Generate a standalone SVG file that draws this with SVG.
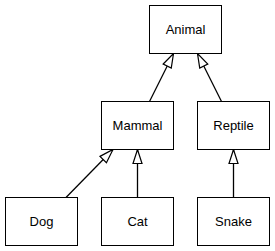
<svg xmlns="http://www.w3.org/2000/svg" width="275" height="251" viewBox="0 0 275 251">
<style>
.box{fill:#fff;stroke:#000;stroke-width:1}
.lbl{font-family:"Liberation Sans",Arial,sans-serif;font-size:13px;fill:#000;text-anchor:middle;dominant-baseline:central}
.edge{stroke:#000;stroke-width:1.3;fill:none;marker-end:url(#tri)}
</style>
<defs>
<marker id="tri" markerUnits="userSpaceOnUse" markerWidth="16" markerHeight="12" viewBox="0 0 16 12" refX="15" refY="6" orient="auto">
<path d="M1,1.5 L15,6 L1,10.5 Z" fill="#fff" stroke="#000" stroke-width="1.2"/>
</marker>
</defs>
<g id="edges">
<path class="edge" d="M149.5,101.5 L173.5,53.5"/>
<path class="edge" d="M221.5,101.5 L197.5,53.5"/>
<path class="edge" d="M66,197.5 L113,149.5"/>
<path class="edge" d="M137.5,197.5 L137.5,149.5"/>
<path class="edge" d="M233.5,197.5 L233.5,149.5"/>
</g>
<g id="animal"><rect class="box" x="149.5" y="5.5" width="72" height="48"/><text class="lbl" x="185.5" y="29.5">Animal</text></g>
<g id="mammal"><rect class="box" x="101.5" y="101.5" width="72" height="48"/><text class="lbl" x="137.5" y="125.5">Mammal</text></g>
<g id="reptile"><rect class="box" x="197.5" y="101.5" width="72" height="48"/><text class="lbl" x="233.5" y="125.5">Reptile</text></g>
<g id="dog"><rect class="box" x="5.5" y="197.5" width="72" height="48"/><text class="lbl" x="41.5" y="221.5">Dog</text></g>
<g id="cat"><rect class="box" x="101.5" y="197.5" width="72" height="48"/><text class="lbl" x="137.5" y="221.5">Cat</text></g>
<g id="snake"><rect class="box" x="197.5" y="197.5" width="72" height="48"/><text class="lbl" x="233.5" y="221.5">Snake</text></g>
</svg>
